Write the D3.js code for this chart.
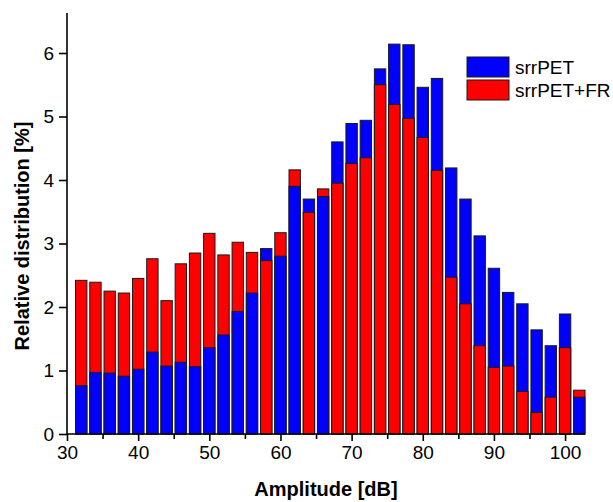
<!DOCTYPE html>
<html>
<head>
<meta charset="utf-8">
<script src="https://cdn.jsdelivr.net/npm/d3@7"></script>
<style>
  body { margin: 0; background: #fff; }
  text { font-family: "Liberation Sans", Arial, sans-serif; }
  .axis path, .axis line { stroke: #000; stroke-width: 1.6; }
  .axis text { font-size: 19px; fill: #000; }
</style>
</head>
<body>
<div id="chart"></div>
<script>
// amplitude bins (dB)
var amplitude = [32, 34, 36, 38, 40, 42, 44, 46, 48, 50, 52, 54, 56, 58, 60, 62, 64, 66,
                 68, 70, 72, 74, 76, 78, 80, 82, 84, 86, 88, 90, 92, 94, 96, 98, 100, 102];

// relative distribution [%]
var srrPET = [0.76, 0.97, 0.96, 0.91, 1.02, 1.29, 1.07, 1.13, 1.06, 1.36, 1.56, 1.93, 2.22, 2.92, 2.80, 3.90, 3.70, 3.74,
              4.60, 4.89, 4.94, 5.75, 6.14, 6.13, 5.46, 5.60, 4.19, 3.70, 3.12, 2.61, 2.23, 2.05, 1.64, 1.39, 1.89, 0.58];

var srrPETFR = [2.42, 2.39, 2.25, 2.22, 2.45, 2.76, 2.10, 2.68, 2.85, 3.16, 2.82, 3.02, 2.86, 2.73, 3.17, 4.16, 3.49, 3.86,
                3.95, 4.26, 4.35, 5.50, 5.19, 4.97, 4.67, 4.15, 2.47, 2.05, 1.39, 1.05, 1.07, 0.67, 0.34, 0.58, 1.36, 0.69];

var xTicks = [30, 40, 50, 60, 70, 80, 90, 100];
var xMinorTicks = [35, 45, 55, 65, 75, 85, 95];
var yTicks = [0, 1, 2, 3, 4, 5, 6];

var seriesNames = ["srrPET", "srrPET+FR"];
var colors = {"srrPET": "#0000ff", "srrPET+FR": "#ff0000"};

var W = 613, H = 502;
var margin = {top: 13, right: 28, bottom: 68, left: 67};

var svg = d3.select("#chart").append("svg")
  .attr("width", W)
  .attr("height", H);

var x = d3.scaleLinear()
  .domain([30, 102.8])
  .range([margin.left, W - margin.right]);

var y = d3.scaleLinear()
  .domain([0, 6.63])
  .range([H - margin.bottom, margin.top]);

// one record per bar; taller bar goes behind the shorter one in the same bin
var bars = [];
amplitude.forEach(function(a, i) {
  bars.push({amp: a, name: "srrPET", value: srrPET[i]});
  bars.push({amp: a, name: "srrPET+FR", value: srrPETFR[i]});
});
bars.sort(function(a, b) { return b.value - a.value; });

var halfWidth = 0.8;

svg.append("g").selectAll("rect")
  .data(bars)
  .enter().append("rect")
  .attr("x", function(d) { return x(d.amp - halfWidth); })
  .attr("width", function(d) { return x(d.amp + halfWidth) - x(d.amp - halfWidth); })
  .attr("y", function(d) { return y(d.value); })
  .attr("height", function(d) { return y(0) - y(d.value); })
  .attr("fill", function(d) { return colors[d.name]; })
  .attr("stroke", "#1a1a1a")
  .attr("stroke-width", 1);

// Axes
var xAxis = d3.axisBottom(x).tickValues(xTicks).tickSize(7).tickPadding(5).tickFormat(d3.format("d"));
var xMinor = d3.axisBottom(x).tickValues(xMinorTicks).tickSize(5).tickFormat("");
var yAxis = d3.axisLeft(y).tickValues(yTicks).tickSize(8).tickPadding(5).tickFormat(d3.format("d"));

svg.append("g")
  .attr("class", "axis x-axis")
  .attr("transform", "translate(0," + y(0) + ")")
  .call(xAxis)
  .call(function(g) { g.select(".domain").attr("d", "M" + x(30) + ",0H" + x(102.8)); });

svg.append("g")
  .attr("class", "axis x-minor")
  .attr("transform", "translate(0," + y(0) + ")")
  .call(xMinor)
  .call(function(g) { g.select(".domain").remove(); });

svg.append("g")
  .attr("class", "axis y-axis")
  .attr("transform", "translate(" + x(30) + ",0)")
  .call(yAxis)
  .call(function(g) { g.select(".domain").attr("d", "M0," + y(0) + "V" + y(6.63)); });

// Axis titles
svg.append("text")
  .attr("text-anchor", "middle")
  .attr("x", (margin.left + W - margin.right) / 2)
  .attr("y", 496)
  .style("font-size", "20px")
  .style("font-weight", "bold")
  .text("Amplitude [dB]");

svg.append("text")
  .attr("text-anchor", "middle")
  .attr("transform", "translate(29," + 236 + ")rotate(-90)")
  .style("font-size", "20px")
  .style("font-weight", "bold")
  .text("Relative distribution [%]");

// Legend
var legend = svg.append("g")
  .attr("transform", "translate(467,57)");

seriesNames.forEach(function(name, i) {
  legend.append("rect")
    .attr("x", 0)
    .attr("y", i * 23)
    .attr("width", 42)
    .attr("height", 20)
    .attr("fill", colors[name])
    .attr("stroke", "#1a1a1a")
    .attr("stroke-width", 1);
  legend.append("text")
    .attr("x", 48)
    .attr("y", i * 23 + 17)
    .style("font-size", "19px")
    .text(name);
});
</script>
</body>
</html>
